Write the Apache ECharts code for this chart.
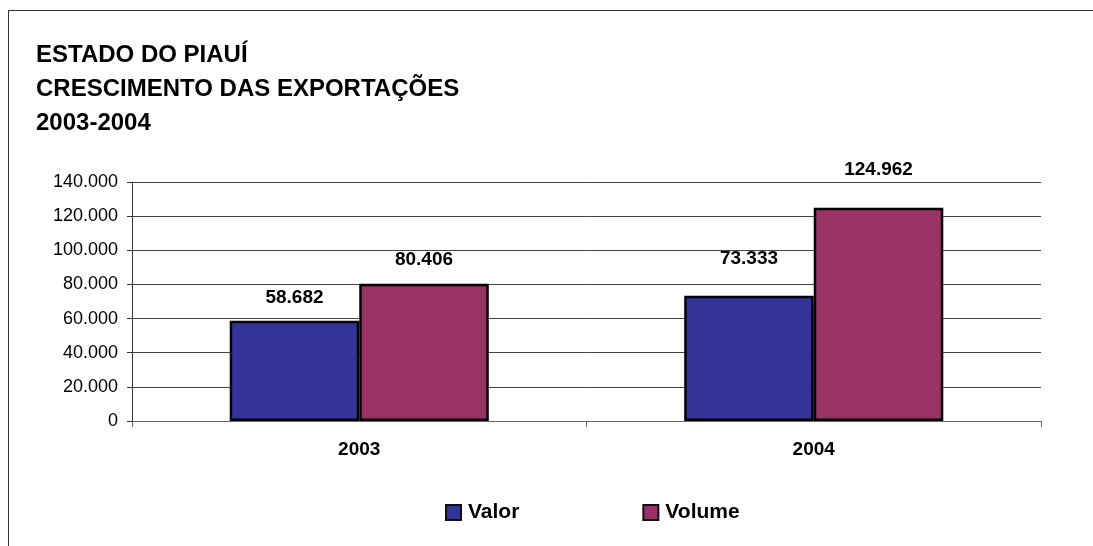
<!doctype html>
<html>
<head>
<meta charset="utf-8">
<script src="https://cdn.jsdelivr.net/npm/echarts@6/dist/echarts.min.js"></script>
<style>
  html, body { margin: 0; padding: 0; background: #fff; }
  #chart { width: 1093px; height: 546px; }
  #frame { position: absolute; left: 8px; top: 10px; width: 1100px; height: 560px;
           border-left: 1px solid #333; border-top: 1px solid #333; pointer-events: none; }
</style>
</head>
<body>
<div id="chart"></div>
<div id="frame"></div>
<script>
  var years = ['2003', '2004'];
  var valor = [58682, 73333];
  var volume = [80406, 124962];
  var yTicks = { min: 0, max: 140000, interval: 20000 };
  // label gap above bars differs per year in the original
  var labelLift = [14, 28];

  function fmt(v) {
    return String(v).replace(/\B(?=(\d{3})+(?!\d))/g, '.');
  }

  var font = 'Liberation Sans, Arial, sans-serif';
  var labelStyle = { show: true, position: 'top', fontSize: 19, fontWeight: 'bold', color: '#000',
                     formatter: function (p) { return fmt(p.value); } };

  function withLabels(values) {
    return values.map(function (v, i) {
      return { value: v, label: { distance: labelLift[i] } };
    });
  }

  var chart = echarts.init(document.getElementById('chart'));
  chart.setOption({
    animation: false,
    textStyle: { fontFamily: font },
    title: {
      text: 'ESTADO DO PIAUÍ\nCRESCIMENTO DAS EXPORTAÇÕES\n2003-2004',
      left: 31, top: 33,
      textStyle: { fontSize: 24, fontWeight: 'bold', color: '#000', lineHeight: 34, fontFamily: font }
    },
    legend: {
      top: 497, left: 440, itemGap: 123,
      itemWidth: 15, itemHeight: 15,
      icon: 'rect',
      itemStyle: { borderColor: '#111', borderWidth: 2 },
      textStyle: { fontSize: 21, fontWeight: 'bold', color: '#000', padding: [0, 0, 0, 2] },
      data: ['Valor', 'Volume']
    },
    grid: { left: 132, right: 52, top: 182, bottom: 125, containLabel: false },
    xAxis: {
      type: 'category', data: years,
      axisLine: { lineStyle: { color: '#666', width: 1 } },
      axisTick: { show: true, length: 6, lineStyle: { color: '#666' } },
      axisLabel: { fontSize: 19, fontWeight: 'bold', color: '#000', margin: 19 }
    },
    yAxis: {
      type: 'value', min: yTicks.min, max: yTicks.max, interval: yTicks.interval,
      axisLine: { show: true, lineStyle: { color: '#333' } },
      axisTick: { show: true, length: 5, lineStyle: { color: '#333' } },
      splitLine: { lineStyle: { color: '#444', width: 1 } },
      axisLabel: { fontSize: 18, color: '#000', margin: 14, formatter: fmt }
    },
    series: [
      {
        name: 'Valor', type: 'bar', data: withLabels(valor),
        barGap: '0%', barCategoryGap: '43%',
        itemStyle: { color: '#333399', borderColor: '#000', borderWidth: 2.5 },
        label: labelStyle
      },
      {
        name: 'Volume', type: 'bar', data: withLabels(volume),
        itemStyle: { color: '#993366', borderColor: '#000', borderWidth: 2.5 },
        label: labelStyle
      }
    ]
  });
</script>
</body>
</html>
